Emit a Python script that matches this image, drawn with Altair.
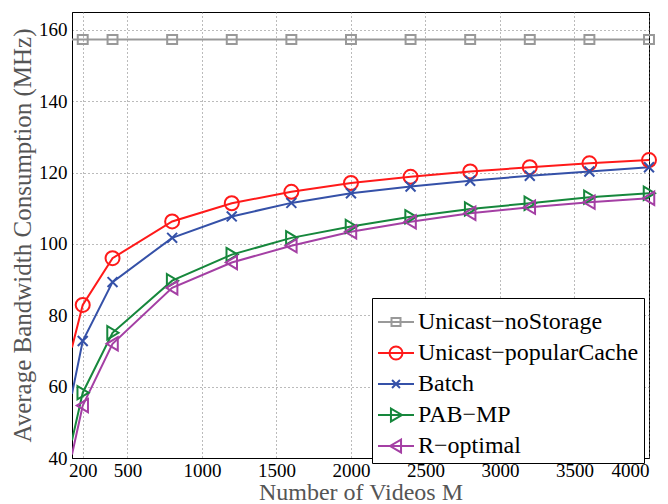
import altair as alt
import pandas as pd

series = ["Unicast−noStorage", "Unicast−popularCache", "Batch", "PAB−MP", "R−optimal"]
colors = ["#999999", "#ff1a1a", "#3551a8", "#16873c", "#a43fa4"]

M_values = [128, 200, 400, 800, 1200, 1600, 2000, 2400, 2800, 3200, 3600, 4000]
no_storage = [157.3, 157.3, 157.3, 157.3, 157.3, 157.3, 157.3, 157.3, 157.3, 157.3, 157.3, 157.3]
popular_cache = [71.0, 82.9, 96.0, 106.3, 111.4, 114.6, 117.1, 118.8, 120.3, 121.5, 122.6, 123.5]
batch = [58.0, 72.8, 89.3, 101.7, 107.7, 111.5, 114.2, 116.1, 117.7, 119.1, 120.3, 121.5]
pab_mp = [45.0, 58.3, 75.1, 89.7, 97.0, 101.7, 104.9, 107.6, 109.8, 111.4, 113.1, 114.2]
r_optimal = [41.0, 54.7, 72.0, 87.7, 94.8, 99.5, 103.4, 106.2, 108.6, 110.3, 111.7, 112.8]

x_ticks = [200, 500, 1000, 1500, 2000, 2500, 3000, 3500, 4000]
y_ticks = [40, 60, 80, 100, 120, 140, 160]

# marker glyphs (unit box, drawn at size 196 -> 14px box)
marker_shapes = [
    "M-0.71,-0.64H0.71V0.64H-0.71Z",
    "M1,0A1,1 0 1,1 -1,0A1,1 0 1,1 1,0",
    "M-0.71,-0.71L0.71,0.71M-0.71,0.71L0.71,-0.71",
    "M-0.75,-0.95L0.85,0L-0.75,0.95Z",
    "M0.75,-0.95L-0.85,0L0.75,0.95Z",
]
# legend glyphs: line through marker (unit box, drawn at 36px)
legend_shapes = [
    "M-1,0H1M-0.25,-0.22H0.25V0.22H-0.25Z",
    "M-1,0H1M0.36,0A0.36,0.36 0 1,1 -0.36,0A0.36,0.36 0 1,1 0.36,0",
    "M-1,0H1M-0.22,-0.22L0.22,0.22M-0.22,0.22L0.22,-0.22",
    "M-1,0H1M-0.28,-0.36L0.33,0L-0.28,0.36Z",
    "M-1,0H1M0.28,-0.36L-0.33,0L0.28,0.36Z",
]

rows = []
for s, col, shp, vals in zip(series, colors, marker_shapes,
                             [no_storage, popular_cache, batch, pab_mp, r_optimal]):
    for m, v in zip(M_values, vals):
        rows.append({"series": s, "M": m, "value": v, "shape": shp, "color": col})
df = pd.DataFrame(rows)

font = "Liberation Serif"

x_enc = alt.X(
    "M:Q",
    scale=alt.Scale(domain=[128, 4000], nice=False, zero=False),
    axis=alt.Axis(values=x_ticks, format="d", title="Number of Videos M",
                  titlePadding=0, labelPadding=3, titleFontSize=24),
)
y_enc = alt.Y(
    "value:Q",
    scale=alt.Scale(domain=[40, 165], nice=False, zero=False),
    axis=alt.Axis(values=y_ticks, title="Average Bandwidth Consumption (MHz)",
                  titlePadding=3, labelPadding=5, titleFontSize=25),
)
color_scale = alt.Scale(domain=series, range=colors)

lines = alt.Chart(df).mark_line(strokeWidth=2, clip=True).encode(
    x=x_enc, y=y_enc,
    stroke=alt.Stroke("color:N", scale=None),
    detail="series:N",
    order="M:Q",
)

points = alt.Chart(df).transform_filter("datum.M >= 200").mark_point(
    filled=False, strokeWidth=2, size=196, opacity=1
).encode(
    x=x_enc, y=y_enc,
    stroke=alt.Stroke("color:N", scale=None),
    shape=alt.Shape("shape:N", scale=None),
)

leg = alt.Legend(
    title=None, orient="none", legendX=300, legendY=286,
    fillColor="white", strokeColor="black", padding=5,
    labelFont=font, labelFontSize=24, labelColor="black", labelLimit=400,
    labelOffset=3, rowPadding=-1,
    symbolStrokeWidth=2, symbolSize=1296,
)

# legend-only layer: no rows, entries come from the explicit scale domain
legend_layer = alt.Chart(df).transform_filter("datum.M < 0").mark_point(
    filled=False, strokeWidth=2, size=1296
).encode(
    x=x_enc, y=y_enc,
    color=alt.Color("series:N", scale=color_scale, legend=leg),
    shape=alt.Shape("series:N", scale=alt.Scale(domain=series, range=legend_shapes), legend=leg),
)

chart = alt.layer(lines, points, legend_layer).properties(
    width=577, height=446,
    autosize=alt.AutoSizeParams(type="none"),
    padding={"left": 72, "top": 12, "right": 19, "bottom": 46},
).configure(
    font=font,
).configure_view(
    stroke="black", strokeWidth=1,
).configure_axis(
    domainColor="black", domainWidth=1,
    grid=True, gridColor="#777777", gridDash=[1, 3], gridWidth=1,
    ticks=False, tickSize=0,
    labelFont=font, labelFontSize=19, labelColor="black",
    titleFont=font, titleColor="#555555", titleFontWeight="normal",
)

chart.save("out.html", embed_options={"renderer": "svg", "actions": False})
